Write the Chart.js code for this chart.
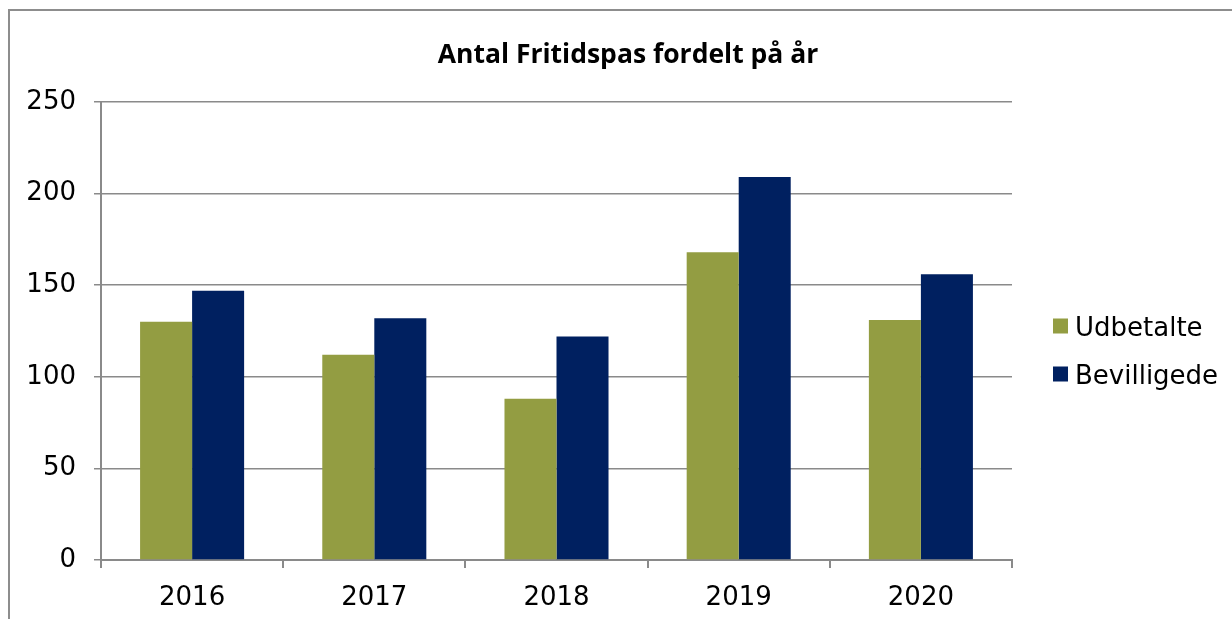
<!DOCTYPE html>
<html lang="da">
<head>
    <meta charset="UTF-8">
    <title>Antal Fritidspas fordelt på år</title>
    <style>
        html, body {
            margin: 0;
            padding: 0;
            background: #ffffff;
            overflow: hidden;
        }

        .frame {
            position: absolute;
            left: 8px;
            top: 9px;
            width: 2000px;
            height: 2000px;
            border: 2px solid #8d8d8d;
        }

        .chart-box {
            position: absolute;
            left: 0;
            top: 0;
            width: 1232px;
            height: 619px;
        }
    </style>
    <script src="https://cdn.jsdelivr.net/npm/chart.js"></script>
</head>
<body>

<div class="frame"></div>
<div class="chart-box">
    <canvas id="fritidChart" width="1232" height="619"></canvas>
</div>

<script>
    // Data
    const years = ['2016', '2017', '2018', '2019', '2020'];
    const udbetalte = [130, 112, 88, 168, 131];
    const bevilligede = [147, 132, 122, 209, 156];
    const yTicks = [0, 50, 100, 150, 200, 250];

    const chartTitle = 'Antal Fritidspas fordelt på år';
    const seriesNames = ['Udbetalte', 'Bevilligede'];
    const seriesColors = ['#939d42', '#002060'];

    const axisGray = '#8a8a8a';
    const tickFont = { family: '"DejaVu Sans", Verdana, sans-serif', size: 26 };

    // Title and legend drawn at the places they sit in the original
    const titleAndLegend = {
        id: 'titleAndLegend',
        afterDraw(chart) {
            const ctx = chart.ctx;
            ctx.save();

            // title, scaled to the width it has in the picture
            ctx.fillStyle = '#000000';
            ctx.textAlign = 'center';
            ctx.textBaseline = 'alphabetic';
            ctx.font = 'bold 100px "Open Sans", "Noto Sans", sans-serif';
            const w100 = ctx.measureText(chartTitle).width;
            const size = 100 * 380 / w100;
            ctx.font = 'bold ' + size.toFixed(1) + 'px "Open Sans", "Noto Sans", sans-serif';
            ctx.fillText(chartTitle, 628, 63);

            // legend
            ctx.textAlign = 'left';
            ctx.font = '26px "DejaVu Sans", Verdana, sans-serif';
            const rows = [326, 374];
            seriesNames.forEach((name, i) => {
                ctx.fillStyle = seriesColors[i];
                ctx.fillRect(1053, rows[i] - 7.5, 15, 15);
                ctx.fillStyle = '#000000';
                ctx.fillText(name, 1075, rows[i] + 10);
            });

            ctx.restore();
        }
    };

    const ctx = document.getElementById('fritidChart').getContext('2d');
    const fritidChart = new Chart(ctx, {
        type: 'bar',
        data: {
            labels: years,
            datasets: [
                {
                    label: seriesNames[0],
                    data: udbetalte,
                    backgroundColor: seriesColors[0],
                    borderWidth: 0
                },
                {
                    label: seriesNames[1],
                    data: bevilligede,
                    backgroundColor: seriesColors[1],
                    borderWidth: 0
                }
            ]
        },
        options: {
            responsive: false,
            animation: false,
            events: [],
            layout: {
                padding: { top: 102, right: 220, left: 0, bottom: 0 }
            },
            datasets: {
                bar: {
                    categoryPercentage: 0.571,
                    barPercentage: 1.0
                }
            },
            plugins: {
                legend: { display: false },
                title: { display: false },
                tooltip: { enabled: false }
            },
            scales: {
                x: {
                    afterFit(scale) { scale.height = 59; },
                    grid: {
                        offset: true,
                        drawOnChartArea: false,
                        drawTicks: true,
                        tickLength: 8,
                        color: axisGray,
                        lineWidth: 2
                    },
                    border: { display: true, color: axisGray, width: 2 },
                    ticks: {
                        color: '#000000',
                        font: tickFont,
                        padding: 15,
                        maxRotation: 0
                    }
                },
                y: {
                    min: 0,
                    max: 250,
                    afterFit(scale) { scale.width = 101; },
                    afterBuildTicks(scale) {
                        scale.ticks = yTicks.map(v => ({ value: v }));
                    },
                    grid: {
                        drawOnChartArea: true,
                        drawTicks: true,
                        tickLength: 7,
                        color: axisGray,
                        lineWidth: 1.5
                    },
                    border: { display: true, color: axisGray, width: 2 },
                    ticks: {
                        color: '#000000',
                        font: tickFont,
                        padding: 18
                    }
                }
            }
        },
        plugins: [titleAndLegend]
    });
</script>

</body>
</html>
